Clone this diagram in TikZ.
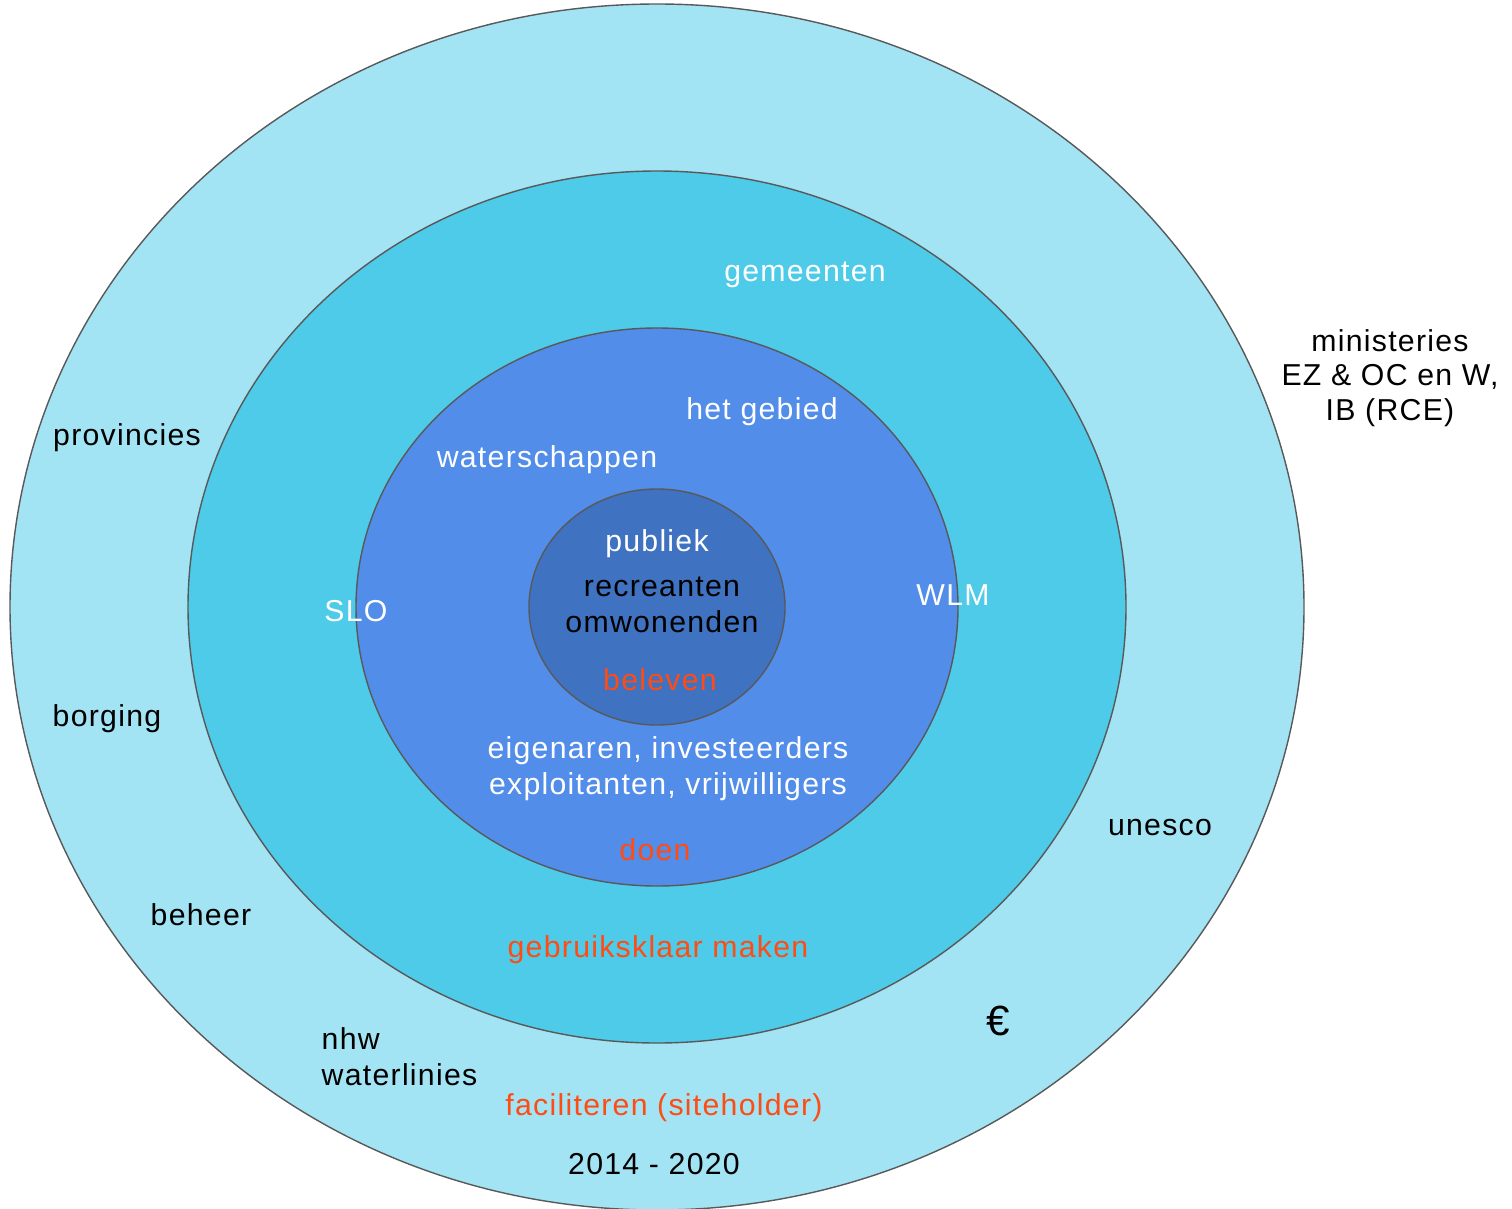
\documentclass[tikz,border=0pt]{standalone}
\usepackage{fontspec}
\setmainfont[LetterSpace=4.2]{Liberation Sans}
\usepackage{tikz}
\definecolor{ringA}{HTML}{A2E4F4}
\definecolor{ringB}{HTML}{4ECBE9}
\definecolor{ringC}{HTML}{528DE9}
\definecolor{ringD}{HTML}{3F72C0}
\definecolor{doencol}{HTML}{FF4B14}
\tikzset{
  lbl/.style={font=\fontsize{8.6}{10.3}\selectfont, inner sep=0pt, align=center},
  wlbl/.style={lbl, text=white},
  blbl/.style={lbl, text=black},
  olbl/.style={lbl, text=doencol}
}

\begin{document}
\begin{tikzpicture}[x=0.01cm, y=-0.01cm]
        \useasboundingbox (0,0) rectangle (1512,1209);
        \coordinate (mid) at (657,607);

        % rings, outside in
        \draw[fill=ringA, draw=black!65, thin] (mid) ellipse [x radius=647, y radius=603];
        \draw[fill=ringB, draw=black!65, thin] (mid) ellipse [x radius=469, y radius=436];
        \draw[fill=ringC, draw=black!65, thin] (mid) ellipse [x radius=301, y radius=279];
        \draw[fill=ringD, draw=black!65, thin] (mid) ellipse [x radius=128, y radius=118];

        % outer ring
        \node[blbl] (minist) at (1390,378) {ministeries\\[-0.5pt]EZ \& OC en W,\\[-0.5pt]IB (RCE)};
        \node[blbl] (prov) at (127,438) {provincies};
        \node[blbl] (borg) at (107,719) {borging};
        \node[blbl] (beheer) at (201,915) {beheer};
        \node[blbl] (unesco) at (1160,828) {unesco};
        \node[blbl, font=\fontsize{12}{14}\selectfont] (euro) at (998,1021) {€};
        \node[blbl, align=left, anchor=west] (nhw) at (321,1057) {nhw\\waterlinies};
        \node[olbl] (facil) at (664,1108) {faciliteren (siteholder)};
        \node[blbl] (jaren) at (654,1164) {2014 - 2020};

        % second ring
        \node[wlbl] (gem) at (805,275) {gemeenten};
        \node[olbl] (gebr) at (658,950) {gebruiksklaar maken};

        % third ring
        \node[wlbl] (gebied) at (762,412) {het gebied};
        \node[wlbl] (water) at (547,460) {waterschappen};
        \node[wlbl] (slo) at (356,611) {SLO};
        \node[wlbl] (wlm) at (953,595) {WLM};
        \node[wlbl] (eigen) at (668,769) {eigenaren, investeerders\\exploitanten, vrijwilligers};
        \node[olbl] (doen) at (655,850) {doen};

        % core
        \node[wlbl] (publiek) at (657,544) {publiek};
        \node[blbl] (recr) at (662,605) {recreanten\\omwonenden};
        \node[olbl] (beleven) at (660,680) {beleven};
    \end{tikzpicture}
\end{document}
